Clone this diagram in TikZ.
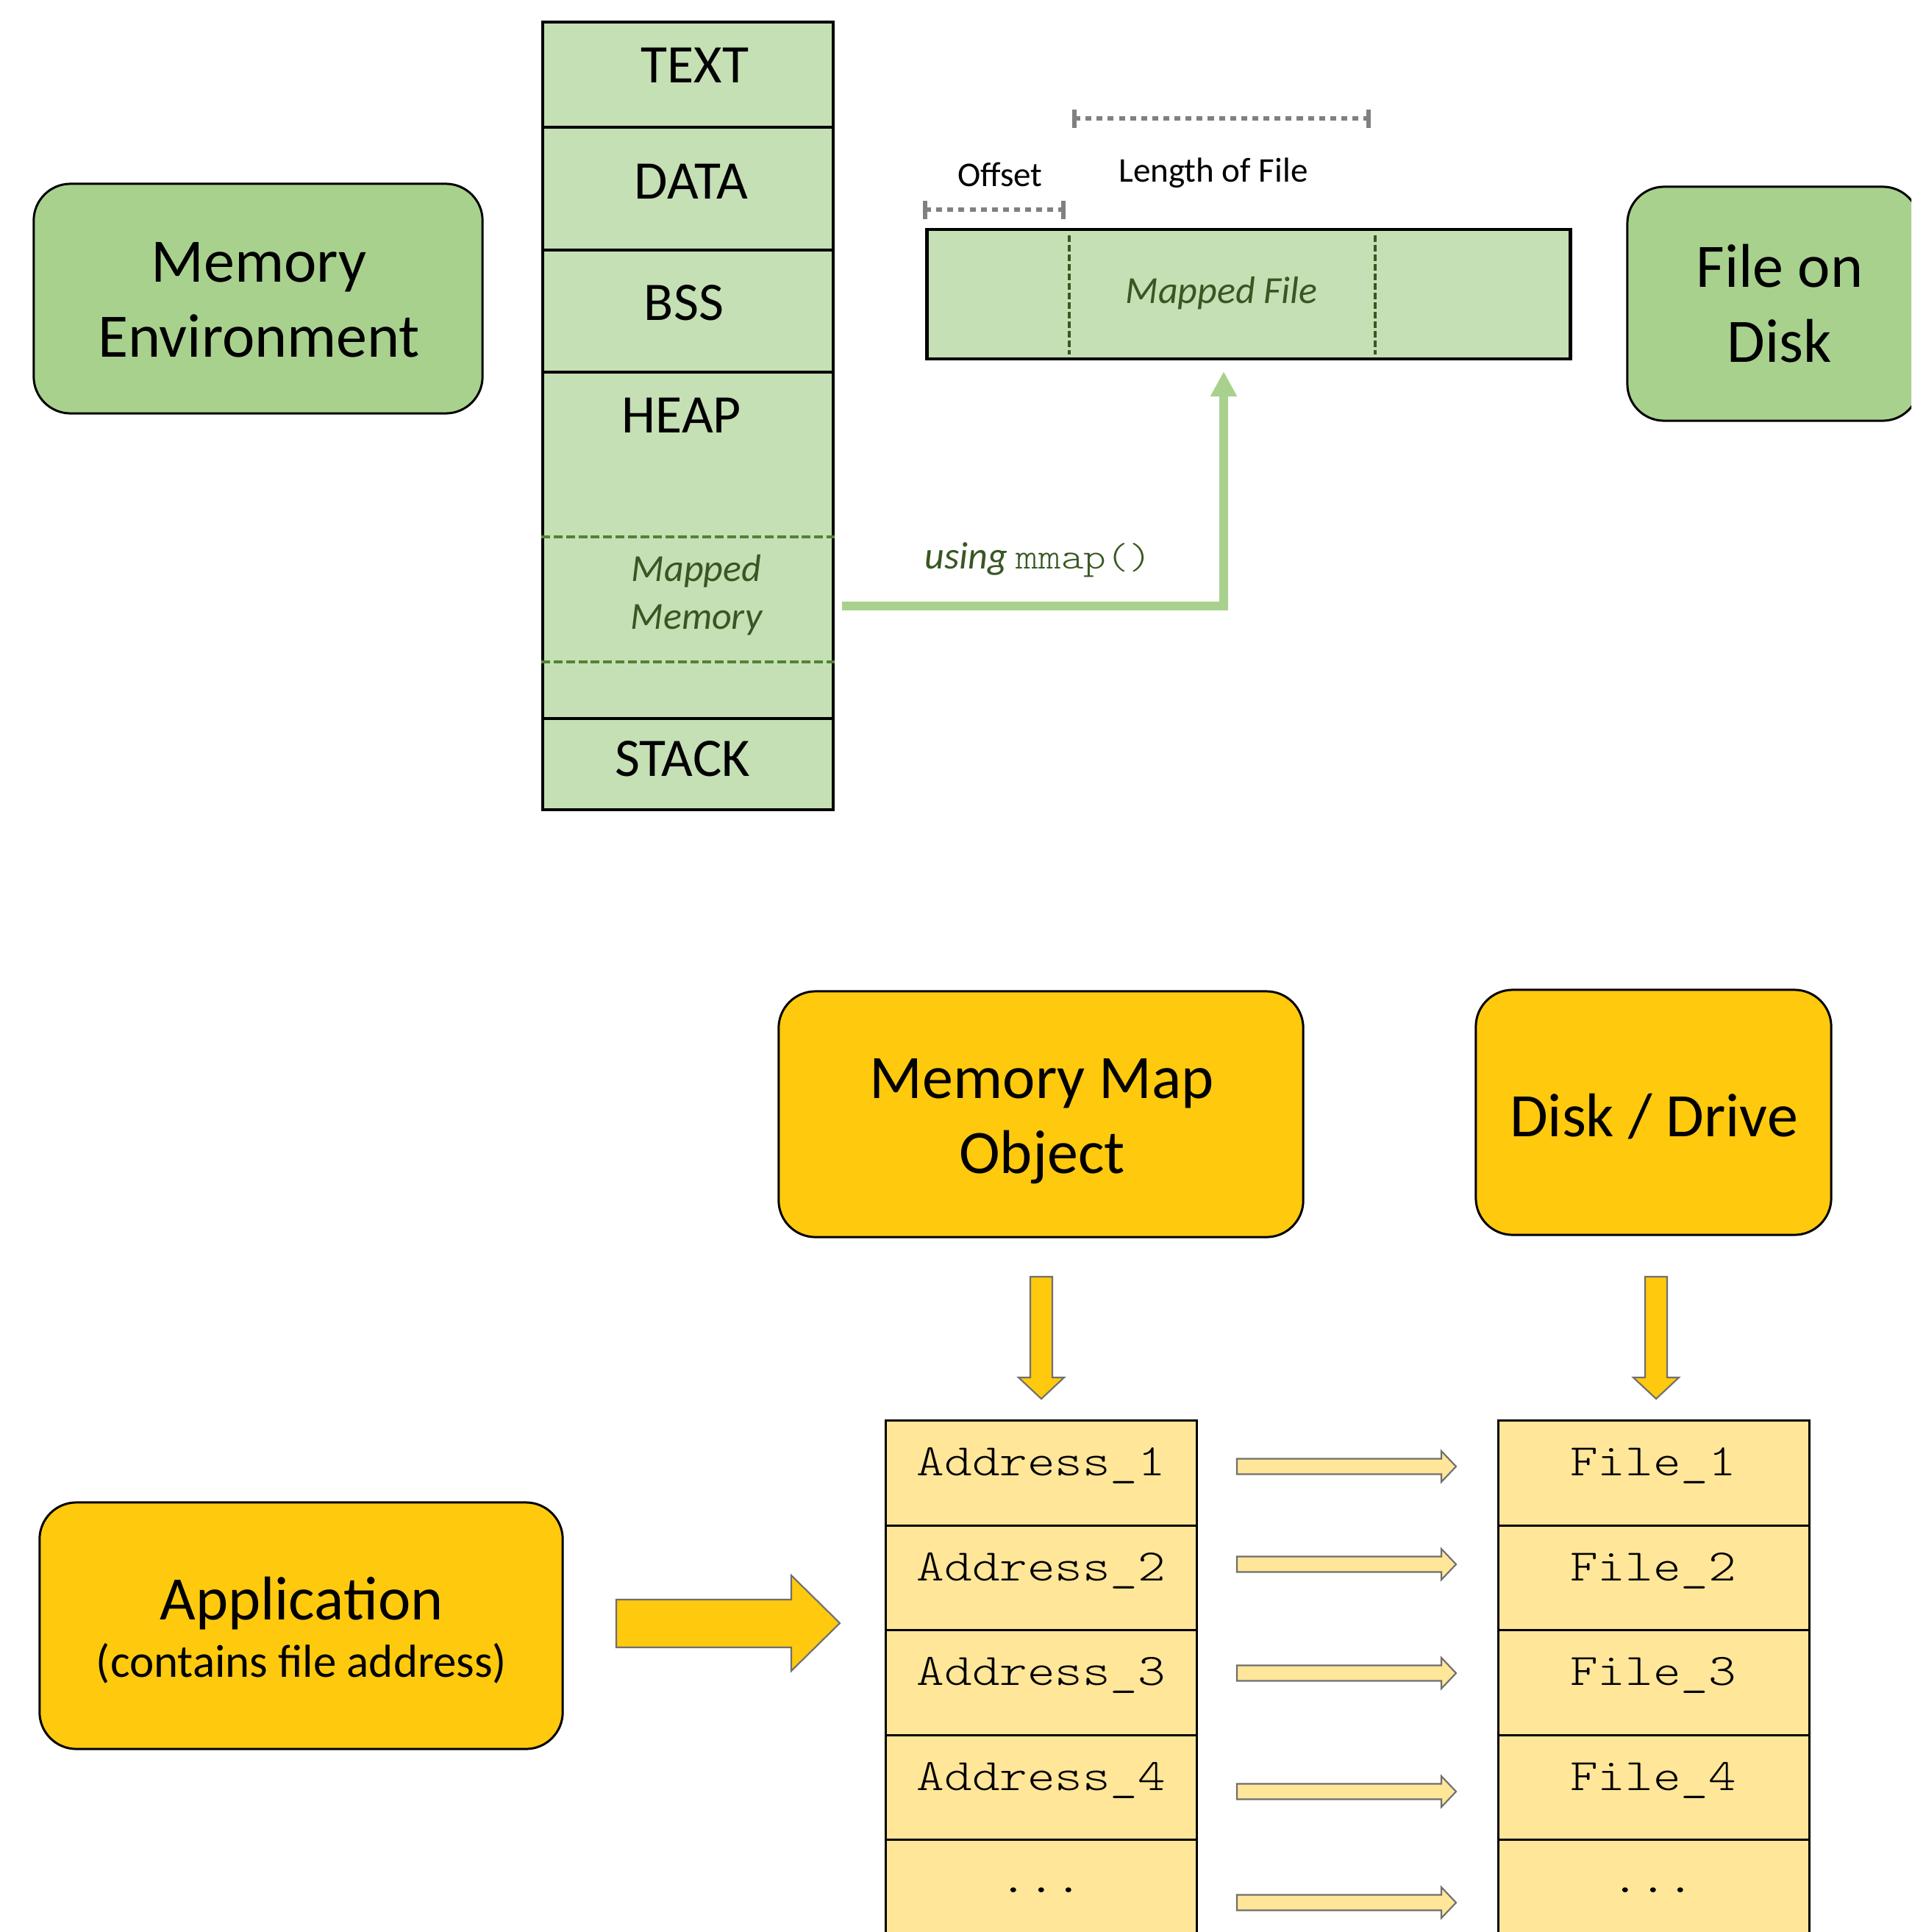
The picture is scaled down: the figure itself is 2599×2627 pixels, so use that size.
\documentclass[tikz,border=0pt]{standalone}
\usepackage{fontspec}
\setmainfont{Carlito}
\newfontfamily\courfont[FakeStretch=1.17]{lmmonolt10-regular.otf}
\usetikzlibrary{arrows.meta}
\definecolor{boxgreen}{HTML}{A9D18E}
\definecolor{lightgreen}{HTML}{C5E0B4}
\definecolor{darkgreen}{HTML}{385723}
\definecolor{dashgreen}{HTML}{548235}
\definecolor{goldfill}{HTML}{FFC90E}
\definecolor{lightgold}{HTML}{FFE699}
\definecolor{bracketgray}{HTML}{808080}
\definecolor{arrowgray}{HTML}{6F6F6F}
\begin{document}
\begin{tikzpicture}[x=0.01cm,y=-0.01cm,
  rbox/.style={draw=black,line width=0.85pt,rounded corners=0.5cm,inner sep=0pt},
  greenbox/.style={rbox,fill=boxgreen},
  goldbox/.style={rbox,fill=goldfill},
  seg/.style={draw=black,line width=1.1pt,fill=lightgreen,inner sep=0pt,minimum width=3.95cm},
  cell/.style={draw=black,line width=0.85pt,fill=lightgold,inner sep=0pt,minimum width=4.22cm,minimum height=1.425cm},
  lbl/.style={anchor=base,inner sep=0pt},
  big/.style={lbl,font=\fontsize{23.9}{29}\selectfont},
  mid/.style={lbl,font=\fontsize{21}{25}\selectfont},
  sub/.style={lbl,font=\fontsize{17.9}{22}\selectfont},
  ital/.style={lbl,text=darkgreen,font=\fontsize{14.8}{18}\selectfont\itshape},
  small/.style={lbl,font=\fontsize{13.4}{16}\selectfont},
  mono/.style={lbl,font=\fontsize{17.4}{21}\selectfont\courfont},
  bracketline/.style={draw=bracketgray,line width=1.6pt,dash pattern=on 2.3pt off 2pt},
  bracketcap/.style={draw=bracketgray,line width=1.5pt},
  greenconn/.style={draw=boxgreen,line width=3.3pt,-{Triangle[length=9.7pt,width=9.7pt]}},
  blockarrow/.style={draw=arrowgray,line width=0.6pt,line join=miter},
]
\useasboundingbox (0,0) rectangle (2599,2627);
\clip (0,0) rectangle (2599,2627);

% ---------- top part ----------
\node[greenbox,minimum width=6.10cm,minimum height=3.12cm] (memenv) at (351,406) {};
\node[big] (memenv1) at (352,383) {Memory};
\node[big] (memenv2) at (352,485) {Environment};

\node[greenbox,minimum width=3.97cm,minimum height=3.18cm] (fod) at (2411.5,413) {};
\node[big] (fod1) at (2420,390) {File on};
\node[big] (fod2) at (2420,492) {Disk};

% memory column
\node[seg,minimum height=1.43cm] (text) at (935.5,101.5) {};
\node[seg,minimum height=1.67cm] (data) at (935.5,256.5) {};
\node[seg,minimum height=1.66cm] (bss) at (935.5,423) {};
\node[seg,minimum height=4.71cm] (heap) at (935.5,741.5) {};
\node[seg,minimum height=1.24cm] (stack) at (935.5,1039) {};
\draw[dashgreen,line width=1pt,dash pattern=on 3.4pt off 1.4pt] (heap.west |- 0,730) coordinate (d1a) -- (heap.east |- 0,730) coordinate (d1b);
\draw[dashgreen,line width=1pt,dash pattern=on 3.4pt off 1.4pt] (heap.west |- 0,900) coordinate (d2a) -- (heap.east |- 0,900) coordinate (d2b);
\node[mid] (textl) at (945,112) {TEXT};
\node[mid] (datal) at (940,270) {DATA};
\node[mid] (bssl) at (930,435) {BSS};
\node[mid] (heapl) at (927,588) {HEAP};
\node[mid] (stackl) at (928,1055) {STACK};
\node[ital] (mm1) at (947,790) {Mapped};
\node[ital] (mm2) at (947,855) {Memory};

% mapped file
\node[draw=black,line width=1.3pt,fill=lightgreen,inner sep=0pt,minimum width=8.74cm,minimum height=1.76cm] (mf) at (1698,400) {};
\draw[darkgreen,line width=0.9pt,dash pattern=on 2.6pt off 1.1pt] (1454,320) coordinate (v1a) -- (1454,482) coordinate (v1b);
\draw[darkgreen,line width=0.9pt,dash pattern=on 2.6pt off 1.1pt] (1870,320) coordinate (v2a) -- (1870,482) coordinate (v2b);
\node[ital] (mfl) at (1661,412) {Mapped File};

% brackets
\coordinate (oa) at (1258,285); \coordinate (ob) at (1446,285);
\draw[bracketline] (oa) -- (ob);
\draw[bracketcap] (1258,273) -- (1258,298);
\draw[bracketcap] (1446,273) -- (1446,298);
\coordinate (la) at (1461,161); \coordinate (lb) at (1861,161);
\draw[bracketline] (la) -- (lb);
\draw[bracketcap] (1461,149) -- (1461,174);
\draw[bracketcap] (1861,149) -- (1861,174);
\node[small] (offl) at (1360,253) {Offset};
\node[small] (lenl) at (1650,247) {Length of File};

% mmap connector
\coordinate (mstart) at (1145,824);
\coordinate (mtip) at (1664,505);
\draw[greenconn] (mstart) -| (mtip);
\node[lbl,anchor=base west,text=darkgreen,font=\fontsize{14.8}{18}\selectfont] (usingl) at (1257,773) {\textit{using} {\fontsize{14.2}{18}\selectfont\courfont mmap()}};

% ---------- bottom part ----------
\node[goldbox,minimum width=7.13cm,minimum height=3.34cm] (mmo) at (1415.5,1515) {};
\node[big] (mmo1) at (1417,1493) {Memory Map};
\node[big] (mmo2) at (1417,1595) {Object};

\node[goldbox,minimum width=4.83cm,minimum height=3.33cm] (disk) at (2248.5,1512.5) {};
\node[big] (diskl) at (2249,1545) {Disk / Drive};

\node[goldbox,minimum width=7.11cm,minimum height=3.35cm] (app) at (409.5,2210.5) {};
\node[big] (app1) at (410,2202) {Application};
\node[sub] (app2) at (410,2280) {(contains file address)};

% big arrow application -> table
\draw[blockarrow,fill=goldfill] (838,2175) -- (1076,2175) -- (1076,2142) -- (1142,2207)
  -- (1076,2272) -- (1076,2240) -- (838,2240) -- cycle;

% down arrows
\foreach \c in {1416,2252}{
  \draw[blockarrow,fill=goldfill] (\c-15,1736) -- (\c+15,1736) -- (\c+15,1873) -- (\c+31,1873)
    -- (\c,1902) -- (\c-31,1873) -- (\c-15,1873) -- cycle;
}

% tables
\foreach \i/\y in {1/2003.25,2/2145.75,3/2288.25,4/2430.75,5/2573.25}{
  \node[cell] (a\i) at (1416,\y) {};
  \node[cell] (f\i) at (2249,\y) {};
}
\foreach \i/\y in {1/2006,2/2149,3/2291,4/2434}{
  \node[mono] (al\i) at (1416,\y) {Address\_\i};
  \node[mono] (fl\i) at (2248,\y) {File\_\i};
}
\node[mono] (al5) at (1416,2573) {...};
\node[mono] (fl5) at (2248,2573) {...};

% small arrows
\foreach \y in {1994,2127,2275,2436,2587}{
  \draw[blockarrow,fill=lightgold] (1682,\y-10.5) -- (1960,\y-10.5) -- (1960,\y-21) -- (1980,\y)
    -- (1960,\y+21) -- (1960,\y+10.5) -- (1682,\y+10.5) -- cycle;
}
\end{tikzpicture}
\end{document}
